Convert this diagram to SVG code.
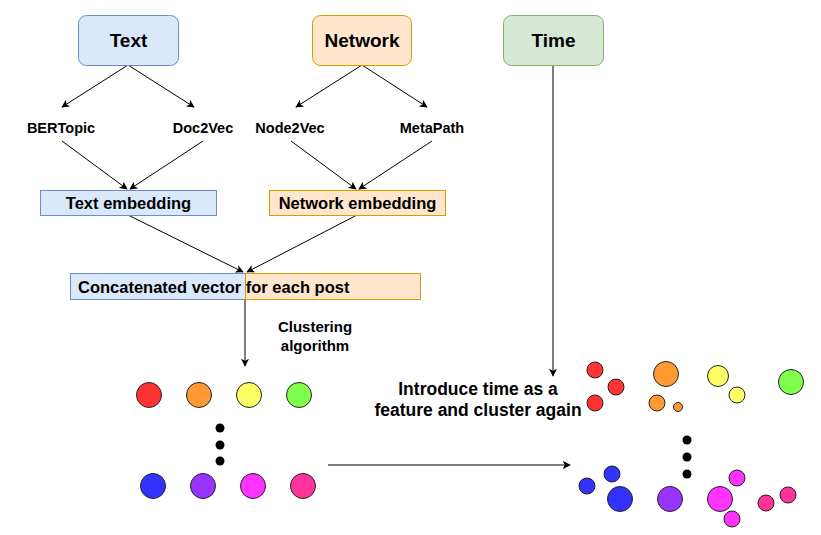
<svg xmlns="http://www.w3.org/2000/svg" width="821" height="535" viewBox="0 0 821 535">
<defs>
<marker id="arr" viewBox="0 0 10 10" refX="9" refY="5" markerWidth="8" markerHeight="8" markerUnits="userSpaceOnUse" orient="auto">
<path d="M0,0 L10,5 L0,10 L2.5,5 z" fill="#000"/>
</marker>
</defs>
<style>
text{font-family:"Liberation Sans",Arial,sans-serif;font-weight:bold;fill:#000}
.t18{font-size:19px;text-anchor:middle}
.t13{font-size:14.5px;text-anchor:middle}
.t15{font-size:16.5px}
.t16{font-size:17.5px;text-anchor:middle}
.blue{fill:#dae8fc;stroke:#6c8ebf;stroke-width:1}
.org{fill:#ffe6cc;stroke:#d79b00;stroke-width:1}
.grn{fill:#d5e8d4;stroke:#82b366;stroke-width:1}
.c{stroke:#000;stroke-width:1;fill:none;marker-end:url(#arr)}
circle{stroke:#222;stroke-width:1}
.dot{fill:#000;stroke:none}
</style>
<rect width="821" height="535" fill="#fff"/>
<g id="connectors">
<line class="c" x1="128" y1="65" x2="62" y2="107"/>
<line class="c" x1="128" y1="65" x2="194" y2="107"/>
<line class="c" x1="362" y1="65" x2="296" y2="107"/>
<line class="c" x1="362" y1="65" x2="427" y2="107"/>
<line class="c" x1="62" y1="141" x2="127" y2="189"/>
<line class="c" x1="203" y1="141" x2="130" y2="189"/>
<line class="c" x1="291" y1="141" x2="356" y2="189"/>
<line class="c" x1="432" y1="141" x2="359" y2="189"/>
<line class="c" x1="128" y1="215" x2="243" y2="272"/>
<line class="c" x1="357" y1="215" x2="247" y2="272"/>
<line class="c" x1="245" y1="299" x2="245" y2="366"/>
<line class="c" x1="553" y1="65" x2="553" y2="376"/>
<line class="c" x1="328" y1="465" x2="570" y2="465"/>
</g>
<g id="text-node"><rect class="blue" x="78.5" y="15.5" width="100" height="50" rx="8"/><text class="t18" x="128.5" y="47">Text</text></g>
<g id="network-node"><rect class="org" x="312.5" y="15.5" width="99" height="50" rx="8"/><text class="t18" x="362" y="47">Network</text></g>
<g id="time-node"><rect class="grn" x="503.5" y="15.5" width="100" height="50" rx="8"/><text class="t18" x="553.5" y="47">Time</text></g>
<g id="bertopic"><text class="t13" x="61" y="133">BERTopic</text></g>
<g id="doc2vec"><text class="t13" x="203" y="133">Doc2Vec</text></g>
<g id="node2vec"><text class="t13" x="290" y="133">Node2Vec</text></g>
<g id="metapath"><text class="t13" x="432" y="133">MetaPath</text></g>
<g id="text-embedding"><rect class="blue" x="40.5" y="190.5" width="176" height="25"/><text class="t15" x="128.5" y="209" text-anchor="middle">Text embedding</text></g>
<g id="network-embedding"><rect class="org" x="269.5" y="190.5" width="176" height="25"/><text class="t15" x="357.5" y="209" text-anchor="middle">Network embedding</text></g>
<g id="concatenated"><rect class="blue" x="70.5" y="273.5" width="175" height="26"/><rect class="org" x="245.5" y="273.5" width="175" height="26"/><text class="t15" x="78" y="292.5">Concatenated vector for each post</text></g>
<g id="clustering-label"><text class="t13" x="315" y="332" style="font-size:15px">Clustering</text><text class="t13" x="315" y="351" style="font-size:15px">algorithm</text></g>
<g id="time-label"><text class="t16" x="478" y="395">Introduce time as a</text><text class="t16" x="478" y="416">feature and cluster again</text></g>
<g id="clusters-initial">
<circle cx="149" cy="395" r="12.5" fill="#ff3333"/>
<circle cx="199" cy="395" r="12.5" fill="#ff9933"/>
<circle cx="249" cy="395" r="12.5" fill="#ffff66"/>
<circle cx="299" cy="395" r="12.5" fill="#80ff4d"/>
<circle class="dot" cx="220" cy="428" r="4.5"/>
<circle class="dot" cx="220" cy="445" r="4.5"/>
<circle class="dot" cx="220" cy="461" r="4.5"/>
<circle cx="153" cy="486" r="12.5" fill="#3333ff"/>
<circle cx="203" cy="486" r="12.5" fill="#9933ff"/>
<circle cx="253" cy="486" r="12.5" fill="#ff33ff"/>
<circle cx="303" cy="486" r="12.5" fill="#ff3399"/>
</g>
<g id="clusters-time">
<circle cx="595" cy="370" r="8" fill="#ff3333"/>
<circle cx="616" cy="387" r="8" fill="#ff3333"/>
<circle cx="595" cy="403" r="8" fill="#ff3333"/>
<circle cx="666" cy="374" r="12.5" fill="#ff9933"/>
<circle cx="657" cy="403" r="8" fill="#ff9933"/>
<circle cx="678" cy="407" r="4.5" fill="#ff9933"/>
<circle cx="718" cy="376" r="10.5" fill="#ffff66"/>
<circle cx="737" cy="395" r="8" fill="#ffff66"/>
<circle cx="791" cy="382" r="12.5" fill="#80ff4d"/>
<circle class="dot" cx="687" cy="440" r="4.5"/>
<circle class="dot" cx="687" cy="457" r="4.5"/>
<circle class="dot" cx="687" cy="474" r="4.5"/>
<circle cx="587" cy="486" r="8" fill="#3333ff"/>
<circle cx="612" cy="474" r="8" fill="#3333ff"/>
<circle cx="620" cy="499" r="12.5" fill="#3333ff"/>
<circle cx="670" cy="499" r="12.5" fill="#9933ff"/>
<circle cx="720" cy="499" r="12.5" fill="#ff33ff"/>
<circle cx="737" cy="478" r="8" fill="#ff33ff"/>
<circle cx="732" cy="519" r="8" fill="#ff33ff"/>
<circle cx="766" cy="503" r="8" fill="#ff3399"/>
<circle cx="788" cy="495" r="8" fill="#ff3399"/>
</g>
</svg>
